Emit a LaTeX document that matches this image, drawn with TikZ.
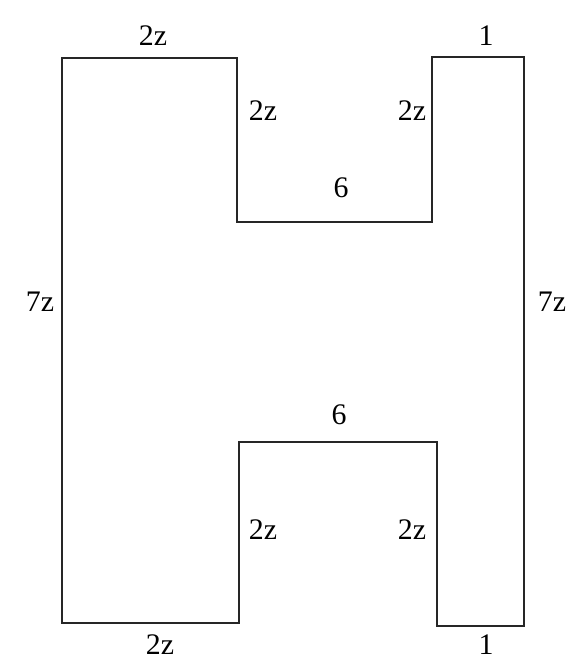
\documentclass[tikz,border=0pt]{standalone}
\usepackage{fontspec}
\setmainfont{Liberation Serif}
\usepackage{tikz}
\tikzset{side/.style={draw=black!85, line width=1.5pt, line join=miter}}
\tikzset{lbl/.style={font=\fontsize{17}{20}\selectfont, inner sep=0pt}}

\begin{document}
\begin{tikzpicture}[x=0.02cm, y=-0.02cm]
\useasboundingbox (0,0) rectangle (578,666);
% outline of the shape
\coordinate (p1) at (62,58);
\coordinate (p2) at (237,58);
\coordinate (p3) at (237,222);
\coordinate (p4) at (432,222);
\coordinate (p5) at (432,57);
\coordinate (p6) at (524,57);
\coordinate (p7) at (524,626);
\coordinate (p8) at (437,626);
\coordinate (p9) at (437,442);
\coordinate (p10) at (239,442);
\coordinate (p11) at (239,623);
\coordinate (p12) at (62,623);
\draw[side] (p1) -- (p2) -- (p3) -- (p4) -- (p5) -- (p6) -- (p7) -- (p8)
  -- (p9) -- (p10) -- (p11) -- (p12) -- cycle;
% side lengths
\node[lbl] (topl) at (153,36) {2z};
\node[lbl] (innl) at (263,111) {2z};
\node[lbl] (innr) at (412,111) {2z};
\node[lbl] (topr) at (486,36) {1};
\node[lbl] (midt) at (341,188) {6};
\node[lbl] (left) at (40,302) {7z};
\node[lbl] (right) at (552,302) {7z};
\node[lbl] (midb) at (339,415) {6};
\node[lbl] (lowl) at (263,530) {2z};
\node[lbl] (lowr) at (412,530) {2z};
\node[lbl] (botl) at (160,645) {2z};
\node[lbl] (botr) at (486,645) {1};
\end{tikzpicture}
\end{document}
